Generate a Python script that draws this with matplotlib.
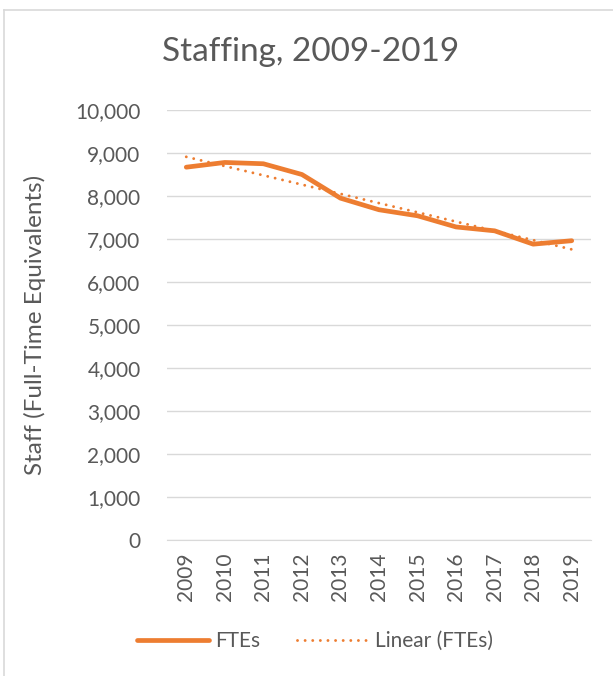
import matplotlib
matplotlib.use("Agg")
import matplotlib.pyplot as plt
from matplotlib.lines import Line2D
from matplotlib.ticker import FuncFormatter
import numpy as np

years = ["2009", "2010", "2011", "2012", "2013", "2014", "2015", "2016", "2017", "2018", "2019"]
ftes = [8670, 8780, 8750, 8500, 7950, 7680, 7540, 7280, 7190, 6880, 6960]

ORANGE = "#ED7D31"
GRAY = "#595959"
GRID = "#D9D9D9"
plt.rcParams['font.family'] = ['Lato', 'DejaVu Sans']

W, H = 613, 676
fig = plt.figure(figsize=(W / 100, H / 100), dpi=100)
ax = fig.add_axes([167 / W, 1 - 540 / H, (591 - 167) / W, (540 - 110) / H])

x = np.arange(len(years))
coef = np.polyfit(x, ftes, 1)
trend = np.polyval(coef, x)

DOT = (0, (0.01, 2.6))
ax.plot(x, ftes, color=ORANGE, lw=3.4, solid_capstyle="round", solid_joinstyle="round", zorder=3, label="FTEs")
ax.plot(x, trend, color=ORANGE, lw=2.1, linestyle=DOT, dash_capstyle="round", zorder=2, label="Linear (FTEs)")

ax.set_xlim(-0.5, len(years) - 0.5)
ax.set_ylim(0, 10000)
ax.set_yticks(np.arange(0, 10001, 1000))
ax.yaxis.set_major_formatter(FuncFormatter(lambda v, p: f"{int(v):,}"))
ax.set_xticks(x)
ax.set_xticklabels(years, rotation=90)
ax.grid(axis="y", color=GRID, lw=1.0)
ax.set_axisbelow(True)
for s in ["top", "right", "left"]:
    ax.spines[s].set_visible(False)
ax.spines["bottom"].set_color(GRID)
ax.tick_params(axis="both", length=0, labelsize=15, labelcolor=GRAY)
ax.tick_params(axis="y", pad=19)
ax.tick_params(axis="x", pad=9)
ax.set_ylabel("Staff (Full-Time Equivalents)", fontsize=17.5, color=GRAY)
ax.yaxis.set_label_coords(-0.285, 0.5)

fig.text(311 / W, 1 - 52 / H, "Staffing, 2009-2019", ha="center", va="center", fontsize=24, color=GRAY)

leg = fig.legend(handles=[
    Line2D([], [], color=ORANGE, lw=3.4, solid_capstyle="round"),
    Line2D([], [], color=ORANGE, lw=2.1, linestyle=DOT, dash_capstyle="round")],
    labels=["FTEs", "Linear (FTEs)"], loc="center", bbox_to_anchor=(315 / W, 1 - 641 / H),
    ncol=2, frameon=False, fontsize=15, handlelength=3.5, handletextpad=0.25, columnspacing=1.8)
for t in leg.get_texts():
    t.set_color(GRAY)

fig.add_artist(Line2D([4 / W, 4 / W], [0, 1 - 10 / H], color=GRID, lw=1.2, transform=fig.transFigure))
fig.add_artist(Line2D([4 / W, 1], [1 - 10 / H, 1 - 10 / H], color=GRID, lw=1.2, transform=fig.transFigure))

fig.savefig("out.png", dpi=100)
